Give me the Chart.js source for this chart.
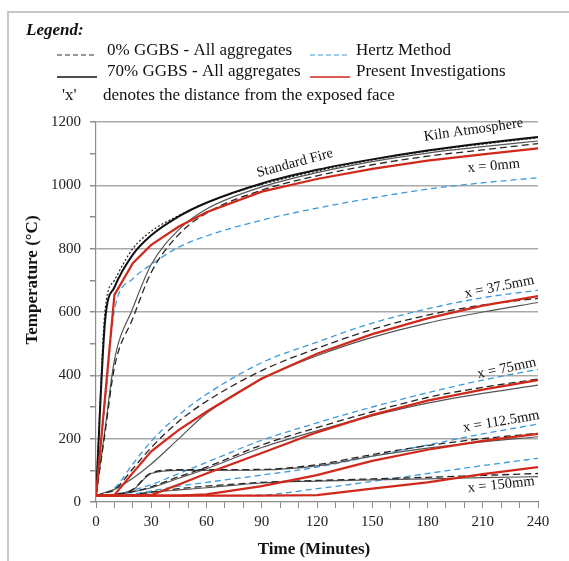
<!DOCTYPE html>
<html>
<head>
<meta charset="utf-8">
<script src="https://cdn.jsdelivr.net/npm/chart.js@4.4.1/dist/chart.umd.min.js"></script>
<style>
  html, body { margin: 0; padding: 0; background: #fff; }
  #wrap { width: 569px; height: 561px; }
</style>
</head>
<body>
<div id="wrap"><canvas id="chart" width="569" height="561"></canvas></div>
<script>
// time in minutes, temperatures in deg C
const TIME = [0, 5, 10, 20, 30, 45, 60, 90, 120, 150, 180, 210, 240];

const STANDARD_FIRE = [20, 576, 678, 781, 842, 902, 945, 1006, 1049, 1082, 1110, 1133, 1153];
const KILN_ATMOSPHERE = [20, 610, 700, 800, 855, 905, 945, 1003, 1045, 1080, 1108, 1130, 1150];

const X0_PRESENT = [20, 337, 654, 754, 812, 870, 915, 980, 1020, 1052, 1078, 1098, 1117];
const X0_HERTZ = [20, 320, 606, 705, 750, 805, 840, 890, 928, 960, 988, 1008, 1024];
const X0_GGBS70 = [20, 234, 448, 612, 750, 860, 925, 995, 1040, 1075, 1102, 1122, 1140];
const X0_GGBS0 = [20, 222, 425, 580, 725, 845, 912, 985, 1030, 1065, 1092, 1112, 1132];

const X37_PRESENT = [20, 20, 22, 92, 160, 228, 285, 390, 468, 530, 580, 620, 650];
const X37_HERTZ = [20, 30, 43, 120, 192, 275, 340, 440, 505, 565, 610, 645, 669];
const X37_GGBS70 = [20, 30, 40, 75, 120, 200, 280, 388, 462, 520, 565, 600, 630];
const X37_GGBS0 = [20, 28, 38, 105, 172, 255, 318, 415, 485, 545, 590, 622, 643];

const X75_PRESENT = [20, 20, 20, 20, 22, 55, 90, 155, 220, 275, 320, 355, 385];
const X75_HERTZ = [20, 22, 25, 37, 55, 90, 125, 195, 250, 300, 345, 385, 419];
const X75_GGBS70 = [20, 21, 23, 32, 45, 75, 105, 172, 225, 272, 312, 343, 369];
const X75_GGBS0 = [20, 22, 24, 33, 48, 80, 110, 180, 235, 285, 330, 362, 388];

const X112_PRESENT = [20, 20, 20, 20, 20, 20, 24, 50, 85, 130, 165, 193, 215];
const X112_HERTZ = [20, 20, 21, 25, 35, 50, 62, 85, 110, 145, 180, 215, 246];
const X112_GGBS70 = [20, 20, 22, 38, 90, 100, 100, 101, 114, 145, 170, 190, 206];
const X112_GGBS0 = [20, 20, 22, 40, 92, 102, 102, 103, 118, 150, 178, 200, 217];

const X150_PRESENT = [20, 20, 20, 20, 20, 20, 20, 20, 22, 42, 62, 88, 110];
const X150_HERTZ = [20, 20, 20, 20, 20, 20, 20, 22, 42, 65, 90, 115, 138];
const X150_GGBS70 = [20, 20, 20, 22, 30, 38, 45, 60, 66, 70, 73, 77, 80];
const X150_GGBS0 = [20, 20, 20, 23, 32, 42, 50, 62, 68, 73, 78, 84, 90];

const X_TICK_LABELS = [0, 30, 60, 90, 120, 150, 180, 210, 240];
const Y_TICK_LABELS = [0, 200, 400, 600, 800, 1000, 1200];

const CURVE_LABELS = ["Standard Fire", "Kiln Atmosphere", "x = 0mm", "x = 37.5mm", "x = 75mm", "x = 112.5mm", "x = 150mm"];
const CURVE_LABEL_TIME = [108, 205, 216, 219, 223, 220, 220];
const CURVE_LABEL_TEMP = [1070, 1175, 1061, 679, 422, 254, 54];

const SERIF = "'Liberation Serif', 'DejaVu Serif', serif";
const RED = "#d0281a";
const BLUE = "#3d9ad8";

const toPoints = (values) => TIME.map((t, i) => ({ x: t, y: values[i] }));

const styles = {
  present: { borderColor: RED, borderWidth: 2.2, tension: 0 },
  hertz: { borderColor: BLUE, borderWidth: 1.3, borderDash: [6, 4], cubicInterpolationMode: "monotone" },
  ggbs0: { borderColor: "#262626", borderWidth: 1.3, borderDash: [7, 4], cubicInterpolationMode: "monotone" },
  ggbs70: { borderColor: "#555", borderWidth: 1.2, cubicInterpolationMode: "monotone" },
  fire: { borderColor: "#111", borderWidth: 2, cubicInterpolationMode: "monotone" },
  kiln: { borderColor: "#222", borderWidth: 1.2, borderDash: [2, 2], cubicInterpolationMode: "monotone" },
};

const makeSet = (label, values, kind) => ({
  label,
  data: toPoints(values),
  fill: false,
  pointRadius: 0,
  ...styles[kind],
});

// first dataset is drawn on top
const datasets = [
  makeSet("Present 0mm", X0_PRESENT, "present"),
  makeSet("Present 37.5mm", X37_PRESENT, "present"),
  makeSet("Present 75mm", X75_PRESENT, "present"),
  makeSet("Present 112.5mm", X112_PRESENT, "present"),
  makeSet("Present 150mm", X150_PRESENT, "present"),
  makeSet("Standard Fire", STANDARD_FIRE, "fire"),
  makeSet("Kiln Atmosphere", KILN_ATMOSPHERE, "kiln"),
  makeSet("0% 0mm", X0_GGBS0, "ggbs0"),
  makeSet("0% 37.5mm", X37_GGBS0, "ggbs0"),
  makeSet("0% 75mm", X75_GGBS0, "ggbs0"),
  makeSet("0% 112.5mm", X112_GGBS0, "ggbs0"),
  makeSet("0% 150mm", X150_GGBS0, "ggbs0"),
  makeSet("70% 0mm", X0_GGBS70, "ggbs70"),
  makeSet("70% 37.5mm", X37_GGBS70, "ggbs70"),
  makeSet("70% 75mm", X75_GGBS70, "ggbs70"),
  makeSet("70% 112.5mm", X112_GGBS70, "ggbs70"),
  makeSet("70% 150mm", X150_GGBS70, "ggbs70"),
  makeSet("Hertz 0mm", X0_HERTZ, "hertz"),
  makeSet("Hertz 37.5mm", X37_HERTZ, "hertz"),
  makeSet("Hertz 75mm", X75_HERTZ, "hertz"),
  makeSet("Hertz 112.5mm", X112_HERTZ, "hertz"),
  makeSet("Hertz 150mm", X150_HERTZ, "hertz"),
];

const sampleLine = (ctx, x1, x2, y, color, width, dash) => {
  ctx.save();
  ctx.strokeStyle = color;
  ctx.lineWidth = width;
  ctx.setLineDash(dash);
  ctx.beginPath();
  ctx.moveTo(x1, y);
  ctx.lineTo(x2, y);
  ctx.stroke();
  ctx.restore();
};

const rotatedText = (ctx, text, x, y, deg) => {
  ctx.save();
  ctx.translate(x, y);
  ctx.rotate((deg * Math.PI) / 180);
  ctx.textAlign = "center";
  ctx.textBaseline = "middle";
  ctx.fillText(text, 0, 0);
  ctx.restore();
};

const labelAngles = [-15, -8, -5, -11.5, -12, -9.5, -6];

const decorations = {
  id: "decorations",
  beforeDraw(chart) {
    const ctx = chart.ctx;
    ctx.save();
    ctx.fillStyle = "#fff";
    ctx.fillRect(0, 0, chart.width, chart.height);
    ctx.restore();
  },
  afterDraw(chart) {
    const ctx = chart.ctx;
    const xs = chart.scales.x;
    const ys = chart.scales.y;
    ctx.save();

    // frame of the figure
    ctx.strokeStyle = "#b4b4b4";
    ctx.lineWidth = 1.5;
    ctx.beginPath();
    ctx.moveTo(8, chart.height);
    ctx.lineTo(8, 12);
    ctx.lineTo(chart.width, 12);
    ctx.stroke();

    // legend block
    ctx.fillStyle = "#111";
    ctx.textBaseline = "alphabetic";
    ctx.textAlign = "left";
    ctx.font = `italic bold 17px ${SERIF}`;
    ctx.fillText("Legend:", 26, 35);

    ctx.font = `17px ${SERIF}`;
    sampleLine(ctx, 57, 97, 55, "#333", 1.2, [5, 3]);
    ctx.fillText("0% GGBS - All aggregates", 107, 55);
    sampleLine(ctx, 310, 350, 55, BLUE, 1.2, [5, 3]);
    ctx.fillText("Hertz Method", 356, 55);

    sampleLine(ctx, 57, 97, 77, "#111", 1.3, []);
    ctx.fillText("70% GGBS - All aggregates", 107, 76);
    sampleLine(ctx, 310, 350, 77, RED, 1.3, []);
    ctx.fillText("Present Investigations", 356, 76);

    ctx.fillText("'x'", 62, 100);
    ctx.fillText("denotes the distance from the exposed face", 103, 100);

    // axis titles
    ctx.font = `bold 17px ${SERIF}`;
    rotatedText(ctx, "Temperature (\u00b0C)", 33, 280, -90);
    rotatedText(ctx, "Time (Minutes)", 314, 550, 0);

    // curve labels at data positions
    ctx.font = `14.5px ${SERIF}`;
    CURVE_LABELS.forEach((text, i) => {
      const px = xs.getPixelForValue(CURVE_LABEL_TIME[i]);
      const py = ys.getPixelForValue(CURVE_LABEL_TEMP[i]);
      rotatedText(ctx, text, px, py, labelAngles[i]);
    });

    ctx.restore();
  },
};

new Chart(document.getElementById("chart"), {
  type: "line",
  data: { datasets },
  options: {
    responsive: false,
    animation: false,
    layout: { padding: { top: 122, right: 31, left: 0, bottom: 0 } },
    plugins: { legend: { display: false }, tooltip: { enabled: false } },
    scales: {
      x: {
        type: "linear",
        min: 0,
        max: 240,
        afterFit: (scale) => { scale.height = 59; },
        afterBuildTicks: (scale) => {
          scale.ticks = [];
          for (let v = 0; v <= 240; v += 10) scale.ticks.push({ value: v });
        },
        ticks: {
          autoSkip: false,
          maxRotation: 0,
          padding: 5,
          color: "#222",
          font: { family: SERIF, size: 15 },
          callback: (v) => (X_TICK_LABELS.includes(v) ? String(v) : ""),
        },
        grid: { drawOnChartArea: false, tickLength: 6, tickColor: "#8c8c8c" },
        border: { color: "#8c8c8c", width: 1.2 },
      },
      y: {
        min: 0,
        max: 1200,
        afterFit: (scale) => { scale.width = 96; },
        afterBuildTicks: (scale) => {
          scale.ticks = [];
          for (let v = 0; v <= 1200; v += 100) scale.ticks.push({ value: v });
        },
        ticks: {
          autoSkip: false,
          padding: 9,
          color: "#222",
          font: { family: SERIF, size: 15 },
          callback: (v) => (Y_TICK_LABELS.includes(v) ? String(v) : ""),
        },
        grid: {
          tickLength: 6,
          tickColor: "#8c8c8c",
          lineWidth: 1.5,
          color: (c) => (c.tick && c.tick.value % 200 === 0 && c.tick.value > 0 ? "#a9a9a9" : "rgba(0,0,0,0)"),
        },
        border: { color: "#8c8c8c", width: 1.2 },
      },
    },
  },
  plugins: [decorations],
});
</script>
</body>
</html>
